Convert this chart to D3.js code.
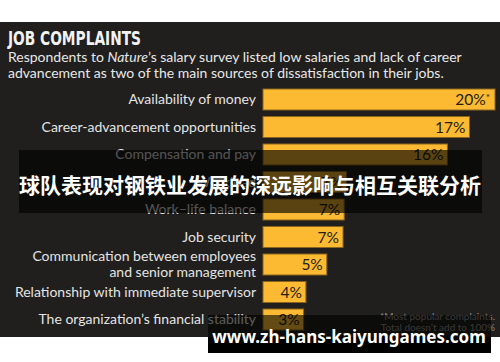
<!DOCTYPE html>
<html>
<head>
<meta charset="utf-8">
<script src="https://cdn.jsdelivr.net/npm/d3@7"></script>
<style>
  html, body { margin: 0; padding: 0; background: #fff; }
  svg { display: block; }
</style>
</head>
<body>
<div id="chart"></div>
<script>
const categories = [
    "Availability of money",
    "Career-advancement opportunities",
    "Compensation and pay",
    "Workload",
    "Work–life balance",
    "Job security",
    "Communication between employees|and senior management",
    "Relationship with immediate supervisor",
    "The organization’s financial stability"
];
const values = [20, 17.8, 15.9, 7.2, 7.0, 6.9, 5.5, 3.7, 3.5];
const valueLabels = ["20%", "17%", "16%", "7%", "7%", "7%", "5%", "4%", "3%"];
const footnote = ["*Most popular complaints.", "Total doesn’t add to 100%"];

const width = 500;
const height = 362;

const svg = d3.select("#chart")
    .append("svg")
    .attr("width", width)
    .attr("height", height);

// dark panel
svg.append("rect")
    .attr("x", 0).attr("y", 22)
    .attr("width", width).attr("height", 315)
    .attr("fill", "#201f1d");

svg.append("text")
    .attr("x", 8).attr("y", 45)
    .attr("fill", "#f2f2f2")
    .style("font-family", "'DejaVu Sans Condensed', 'DejaVu Sans', sans-serif")
    .style("font-stretch", "condensed")
    .style("font-weight", "600")
    .style("font-size", "19.5px")
    .attr("textLength", 133)
    .attr("lengthAdjust", "spacingAndGlyphs")
    .text("JOB COMPLAINTS");

const sub = svg.append("g")
    .style("font-family", "Lato, 'Noto Sans', sans-serif")
    .style("font-size", "14px")
    .attr("fill", "#e8e8e8");

const line1 = sub.append("text").attr("x", 8).attr("y", 62);
line1.append("tspan").text("Respondents to ");
line1.append("tspan").style("font-style", "italic").text("Nature");
line1.append("tspan").text("’s salary survey listed low salaries and lack of career");
sub.append("text").attr("x", 8).attr("y", 78)
    .text("advancement as two of the main sources of dissatisfaction in their jobs.");

const x = d3.scaleLinear().domain([0, 20]).range([263, 495]);
const y = d3.scaleBand()
    .domain(categories)
    .range([85.75, 333.25])
    .paddingInner(0.236)
    .paddingOuter(0.118);

const rows = svg.append("g").selectAll("g")
    .data(categories)
    .join("g");

rows.append("rect")
    .attr("x", x(0))
    .attr("y", d => y(d))
    .attr("width", (d, i) => x(values[i]) - x(0))
    .attr("height", y.bandwidth())
    .attr("fill", "#fbba31")
    .attr("stroke", "#8a6520")
    .attr("stroke-width", 1);

rows.append("text")
    .attr("text-anchor", "end")
    .attr("fill", "#e4e4e4")
    .style("font-family", "Lato, 'Noto Sans', sans-serif")
    .style("font-size", "14px")
    .each(function (d) {
        const parts = d.split("|");
        const cy = y(d) + y.bandwidth() / 2;
        const t = d3.select(this);
        if (parts.length === 1) {
            t.append("tspan").attr("x", 256).attr("y", cy + 4.5).text(parts[0]);
        } else {
            t.append("tspan").attr("x", 256).attr("y", cy - 4).text(parts[0]);
            t.append("tspan").attr("x", 256).attr("y", cy + 12.5).text(parts[1]);
        }
    });

rows.append("text")
    .attr("text-anchor", "end")
    .attr("fill", "#231d12")
    .style("font-family", "Lato, 'Noto Sans', sans-serif")
    .style("font-size", "15.5px")
    .each(function (d, i) {
        const t = d3.select(this)
            .attr("x", x(values[i]) - (i === 0 ? 5 : 4))
            .attr("y", y(d) + y.bandwidth() / 2 + 5.5);
        t.append("tspan").text(valueLabels[i]);
        if (i === 0) {
            t.append("tspan").attr("dy", -4).style("font-size", "10px").text("*");
        }
    });

svg.append("g")
    .attr("text-anchor", "end")
    .attr("fill", "#8c8c8c")
    .style("font-family", "Lato, 'Noto Sans', sans-serif")
    .style("font-size", "10px")
    .selectAll("text")
    .data(footnote)
    .join("text")
    .attr("x", 495)
    .attr("y", (d, i) => 320 + i * 11)
    .text(d => d);

// watermark band
svg.append("rect")
    .attr("x", 19).attr("y", 150)
    .attr("width", 463).attr("height", 63)
    .attr("fill", "#000").attr("fill-opacity", 0.64);
svg.append("text")
    .attr("x", 250).attr("y", 193)
    .attr("text-anchor", "middle")
    .attr("fill", "#fff")
    .style("font-family", "'Noto Sans CJK SC', sans-serif")
    .style("font-weight", "bold")
    .style("font-size", "21px")
    .text("球队表现对钢铁业发展的深远影响与相互关联分析");

// url box
svg.append("rect")
    .attr("x", 208).attr("y", 315)
    .attr("width", 283).attr("height", 38)
    .attr("fill", "#000").attr("fill-opacity", 0.6);
svg.append("rect")
    .attr("x", 208).attr("y", 337)
    .attr("width", 283).attr("height", 16)
    .attr("fill", "#000");
svg.append("text")
    .attr("x", 349).attr("y", 343)
    .attr("text-anchor", "middle")
    .attr("fill", "#fff")
    .style("font-family", "'Noto Sans', 'DejaVu Sans', sans-serif")
    .style("font-weight", "bold")
    .style("font-size", "17px")
    .text("www.zh-hans-kaiyungames.com");
</script>
</body>
</html>
